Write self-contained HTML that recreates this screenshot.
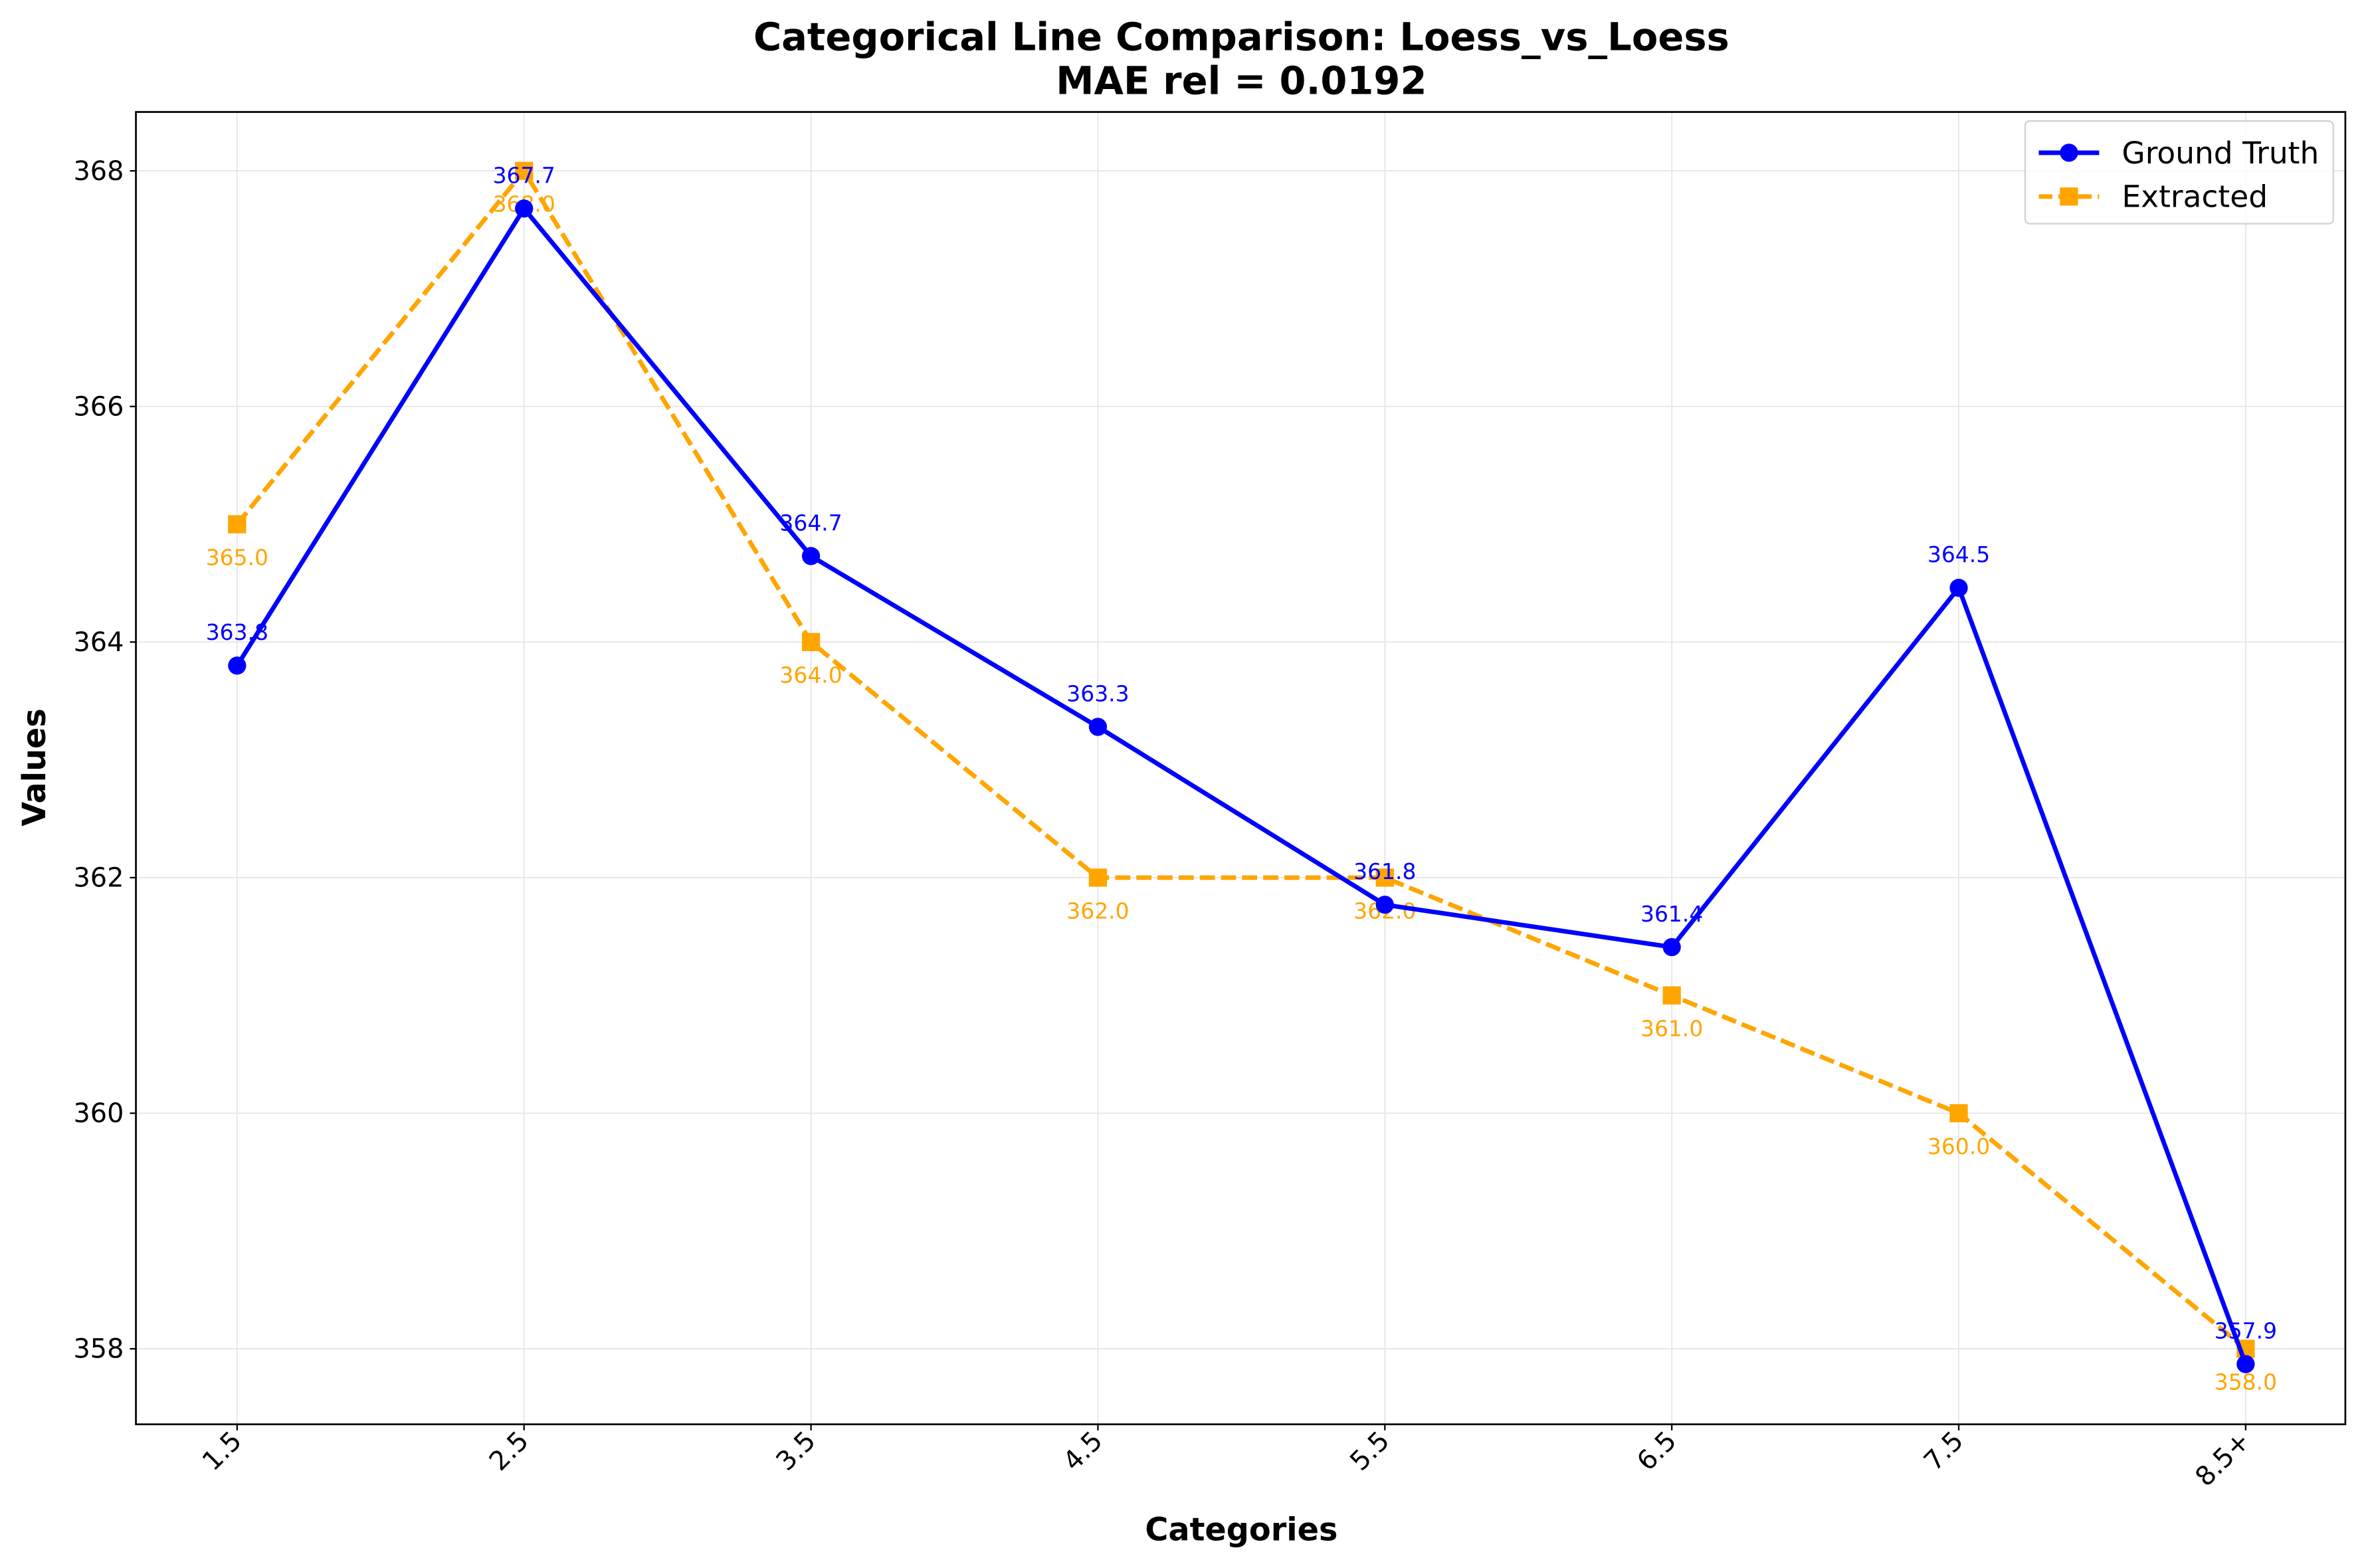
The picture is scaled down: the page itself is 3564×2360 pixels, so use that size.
<!DOCTYPE html>
<html><head><meta charset="utf-8"><style>html,body{margin:0;padding:0;background:#fff}svg{display:block}text{font-family:"DejaVu Sans","Liberation Sans",sans-serif}</style></head>
<body>
<svg id="chart" width="3564" height="2360" viewBox="0 0 1568 1038" xmlns="http://www.w3.org/2000/svg">
<rect width="1568" height="1038" fill="#fff"/>
<g id="grid"></g>
<g id="series"></g>
<rect x="90" y="74" width="1463" height="869" fill="none" stroke="#000" stroke-width="1.2"/>
<g id="axes"></g>
<text x="822" y="33" text-anchor="middle" font-size="25.3" font-weight="bold">Categorical Line Comparison: Loess_vs_Loess</text>
<text x="822" y="62" text-anchor="middle" font-size="25.3" font-weight="bold">MAE rel = 0.0192</text>
<text x="822" y="1020" text-anchor="middle" font-size="21" font-weight="bold">Categories</text>
<text x="30" y="508" text-anchor="middle" font-size="21" font-weight="bold" transform="rotate(-90 30 508)">Values</text>
<g>
<rect x="1341" y="80" width="204" height="68" rx="3" fill="#fff" fill-opacity="0.8" stroke="#d0d0d0"/>
<line x1="1350" y1="101" x2="1390" y2="101" stroke="#0000ff" stroke-width="3"/>
<circle cx="1370" cy="101" r="6" fill="#0000ff"/>
<text x="1405" y="108" font-size="20">Ground Truth</text>
<line x1="1350" y1="130" x2="1390" y2="130" stroke="#ffa500" stroke-width="3" stroke-dasharray="9,4"/>
<rect x="1364" y="124" width="12" height="12" fill="#ffa500"/>
<text x="1405" y="137" font-size="20">Extracted</text>
</g>
</svg>
<script>
const categories = ["1.5","2.5","3.5","4.5","5.5","6.5","7.5","8.5+"];
const groundTruth = [363.8,367.68,364.73,363.28,361.77,361.41,364.46,357.87];
const extracted = [365.0,368.0,364.0,362.0,362.0,361.0,360.0,358.0];
const yTicks = [358,360,362,364,366,368];

const NS="http://www.w3.org/2000/svg";
const X0=157, X1=1487, YV0=358, YP0=893, YV1=368, YP1=113;
const xs=i=>X0+(X1-X0)*i/(categories.length-1);
const ys=v=>YP0+(v-YV0)*(YP1-YP0)/(YV1-YV0);
function mk(tag,attrs,parent,txt){const e=document.createElementNS(NS,tag);for(const k in attrs)e.setAttribute(k,attrs[k]);if(txt!==undefined)e.textContent=txt;parent.appendChild(e);return e;}
const grid=document.getElementById('grid'),axes=document.getElementById('axes'),series=document.getElementById('series');
yTicks.forEach(t=>{const y=ys(t);
 const g=mk('line',{x1:90,x2:1553,y1:y,y2:y,stroke:'#e6e6e6','stroke-width':0.8},grid);
 
 
 mk('line',{x1:86,x2:90,y1:y,y2:y,stroke:'#000','stroke-width':1},axes);
 const l=mk('text',{x:82,y:y+6,'text-anchor':'end','font-size':17.5},axes,String(t));
 
 
});
categories.forEach((c,i)=>{const x=xs(i);
 const g=mk('line',{x1:x,x2:x,y1:74,y2:943,stroke:'#e6e6e6','stroke-width':0.8},grid);
 
 
 mk('line',{x1:x,x2:x,y1:943,y2:947,stroke:'#000','stroke-width':1},axes);
 const l=mk('text',{x:x+4,y:955,'text-anchor':'end','font-size':17.5,transform:`rotate(-45 ${x+4} 955)`},axes,c);
 
 
});
function drawSeries(vals,color,dash,marker,name,dy){
 const pts=vals.map((v,i)=>xs(i)+','+ys(v)).join(' ');
 const pl=mk('polyline',{points:pts,fill:'none',stroke:color,'stroke-width':3,'stroke-dasharray':dash||'none','stroke-linejoin':'round'},series);
 
 
 vals.forEach((v,i)=>{const x=xs(i),y=ys(v);let m;
  if(marker==='circle')m=mk('circle',{cx:x,cy:y,r:6,fill:color},series);
  else m=mk('rect',{x:x-6,y:y-6,width:12,height:12,fill:color},series);
  
  
  const t=mk('text',{x:x,y:y+dy,'text-anchor':'middle','font-size':14.5,fill:color},series,v.toFixed(1));
  
  
 });
}
drawSeries(extracted,'#ffa500','10,4','square','extracted',27);
drawSeries(groundTruth,'#0000ff',null,'circle','ground-truth',-17);
</script>
</body></html>
